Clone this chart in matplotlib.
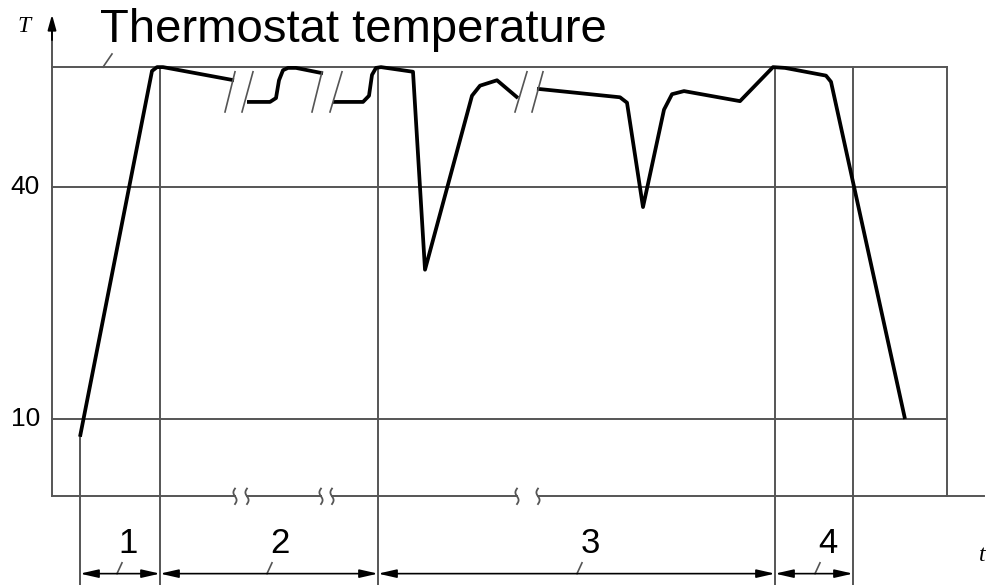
import numpy as np
import matplotlib.pyplot as plt

plt.rcParams['font.family'] = ['Liberation Sans', 'DejaVu Sans']

# temperature curve, in pieces between the breaks of the time axis
t_a = [28, 100, 105, 111, 182]
T_a = [7.7, 55.0, 55.5, 55.5, 53.8]
t_b = [195, 218, 224, 227, 231, 236, 244, 271]
T_b = [51.0, 51.0, 51.5, 53.8, 55.1, 55.4, 55.4, 54.7]
t_c = [281, 311, 317, 320, 324, 329, 361, 373, 420, 428, 445, 466]
T_c = [51.0, 51.0, 51.8, 54.5, 55.4, 55.5, 54.9, 29.3, 51.8, 53.1, 53.8, 51.5]
t_d = [485, 568, 575, 591, 612, 620, 632, 688, 721, 733, 774, 779, 853]
T_d = [52.7, 51.6, 50.9, 37.4, 50.0, 52.0, 52.4, 51.1, 55.5, 55.4, 54.4, 53.6, 10.0]

T_thermostat = 55.5
T_levels = [10, 40, T_thermostat]
T_labels = ["10", "40"]
t_box_end = 895
t_phase = [28, 108, 326, 723, 801]
phase_names = ["1", "2", "3", "4"]

# break marks on the curve (bottom t, top t) and on the time axis
curve_breaks = [(173, 183), (190, 201), (260, 270), (278, 290), (463, 475), (480, 491)]
axis_breaks = [(183, 195), (269, 280), (465, 486)]

grid_c = "#555555"
fig = plt.figure(figsize=(9.88, 5.85), dpi=100)
ax = fig.add_axes([0, 0, 1, 1])
ax.set_xlim(-52, 936)
ax.set_ylim(-11.47, 64.18)
ax.axis("off")

# grid lines
for T in T_levels:
    ax.plot([0, t_box_end], [T, T], color=grid_c, lw=1.4)
ax.plot([t_phase[0], t_phase[0]], [T_a[0], -12], color=grid_c, lw=1.4)
for t in t_phase[1:]:
    ax.plot([t, t], [T_thermostat, -12], color=grid_c, lw=1.4)
ax.plot([t_box_end, t_box_end], [T_thermostat, 0], color=grid_c, lw=1.4)

# y axis with arrow
ax.plot([0, 0], [0, 61], color=grid_c, lw=1.4)
ax.annotate("", xy=(0, 62.3), xytext=(0, 59),
            arrowprops=dict(arrowstyle="-|>,head_length=0.9,head_width=0.25",
                            color="black", lw=1.4, shrinkA=0, shrinkB=0))

# x axis with breaks and arrow
x_start = 0
for b0, b1 in axis_breaks:
    ax.plot([x_start, b0], [0, 0], color=grid_c, lw=1.4)
    x_start = b1
ax.plot([x_start, 932], [0, 0], color=grid_c, lw=1.4)
ax.annotate("", xy=(940, 0), xytext=(925, 0),
            arrowprops=dict(arrowstyle="-|>,head_length=0.9,head_width=0.25",
                            color="black", lw=1.4, shrinkA=0, shrinkB=0))
s = np.linspace(-1, 1, 30)
for b0, b1 in axis_breaks:
    for tc in (b0, b1):
        ax.plot(tc - 1.6 * np.sin(np.pi * s), 1.0 * s, color=grid_c, lw=1.3)

# temperature curve
for tt, TT in [(t_a, T_a), (t_b, T_b), (t_c, T_c), (t_d, T_d)]:
    ax.plot(tt, TT, color="black", lw=2.7, solid_joinstyle="round",
            solid_capstyle="butt")
for b0, b1 in curve_breaks:
    ax.plot([b0, b1], [49.7, 54.9], color=grid_c, lw=1.2)

# tick labels and axis names
for T, lab in zip(T_levels[:2], T_labels):
    ax.text(-12, T, lab, ha="right", va="center", fontsize=19)
ax.text(-28, 60.7, "T", ha="center", va="center", fontsize=17,
        family="Liberation Serif", style="italic")
ax.text(927, -7.6, "t", ha="left", va="center", fontsize=17,
        family="Liberation Serif", style="italic")

ax.text(48, 58.75, "Thermostat temperature", ha="left", va="baseline",
        fontsize=34)
ax.plot([51, 60], [T_thermostat, 57.2], color=grid_c, lw=1.2)

# phase dimension arrows
for i, name in enumerate(phase_names):
    t0, t1 = t_phase[i], t_phase[i + 1]
    ax.annotate("", xy=(t1, -10), xytext=(t0, -10),
                arrowprops=dict(arrowstyle="<|-|>,head_length=1.1,head_width=0.25",
                                color="black", lw=1.2, shrinkA=0, shrinkB=0))
label_t = [76, 228, 538, 776]
leader_t = [65, 215, 525, 763]
for lt, ld, name in zip(label_t, leader_t, phase_names):
    ax.text(lt, -7.3, name, ha="center", va="baseline", fontsize=25)
    ax.plot([ld, ld + 5], [-10, -8.6], color=grid_c, lw=1.2)

plt.savefig("out.png", dpi=100)
